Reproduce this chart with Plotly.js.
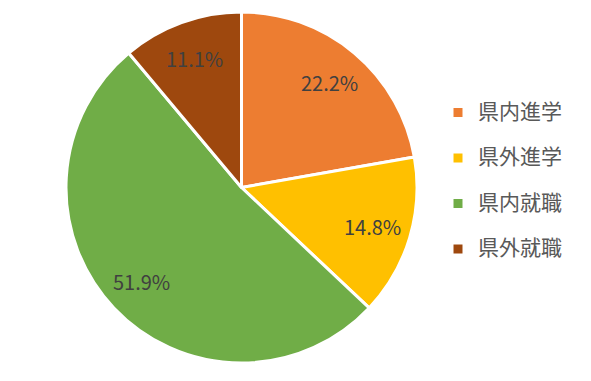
<!DOCTYPE html>
<html>
<head>
<meta charset="utf-8">
<script src="https://cdn.plot.ly/plotly-3.0.1.min.js"></script>
<style>html,body{margin:0;padding:0;background:#fff;}#chart{width:591px;height:381px;}</style>
</head>
<body>
<div id="chart"></div>
<script>
const categories = ['県内進学', '県外進学', '県内就職', '県外就職'];
const counts = [6, 4, 14, 3];
const colors = ['#ED7D31', '#FFC000', '#70AD47', '#9E480E'];

const W = 591, H = 381;
const pieLeft = 66, pieRight = 417, pieTop = 12, pieBottom = 363;

const legendLabels = categories.map(c => '\u00a0<br><span style="font-size:21px">' + c + '</span>');

const trace = {
  type: 'pie',
  labels: legendLabels,
  values: counts,
  sort: false,
  direction: 'clockwise',
  rotation: 0,
  marker: {colors: colors, line: {color: '#FFFFFF', width: 3}},
  textinfo: 'none',
  domain: {x: [pieLeft / W, pieRight / W], y: [1 - pieBottom / H, 1 - pieTop / H]},
  hoverinfo: 'label+percent'
};

// percentage labels placed along each slice's bisector (computed from the data)
const total = counts.reduce((a, b) => a + b, 0);
const cx = (pieLeft + pieRight) / 2, cy = (pieTop + pieBottom) / 2;
const R = (pieRight - pieLeft) / 2;
const labelR = 0.78 * R;
let cum = 0;
const annotations = counts.map(v => {
  const mid = (cum + v / 2) / total * 2 * Math.PI;
  cum += v;
  const px = cx + labelR * Math.sin(mid);
  const py = cy - labelR * Math.cos(mid);
  return {
    xref: 'paper', yref: 'paper', x: px / W, y: 1 - py / H,
    xanchor: 'center', yanchor: 'middle', showarrow: false,
    text: (v / total * 100).toFixed(1) + '%',
    font: {family: '"Noto Sans CJK JP", "Noto Sans", sans-serif', size: 20, color: '#404040'}
  };
});

const layout = {
  width: W, height: H,
  margin: {l: 0, r: 0, t: 0, b: 0},
  paper_bgcolor: '#FFFFFF',
  showlegend: true,
  annotations: annotations,
  legend: {
    x: 438 / W, xanchor: 'left',
    y: 1 - 74 / H, yanchor: 'top',
    valign: 'bottom',
    font: {family: '"Noto Sans CJK JP", sans-serif', size: 16.35, color: '#595959'},
    bgcolor: 'rgba(0,0,0,0)', borderwidth: 0
  }
};

Plotly.newPlot('chart', [trace], layout, {displayModeBar: false, staticPlot: true});
</script>
</body>
</html>
